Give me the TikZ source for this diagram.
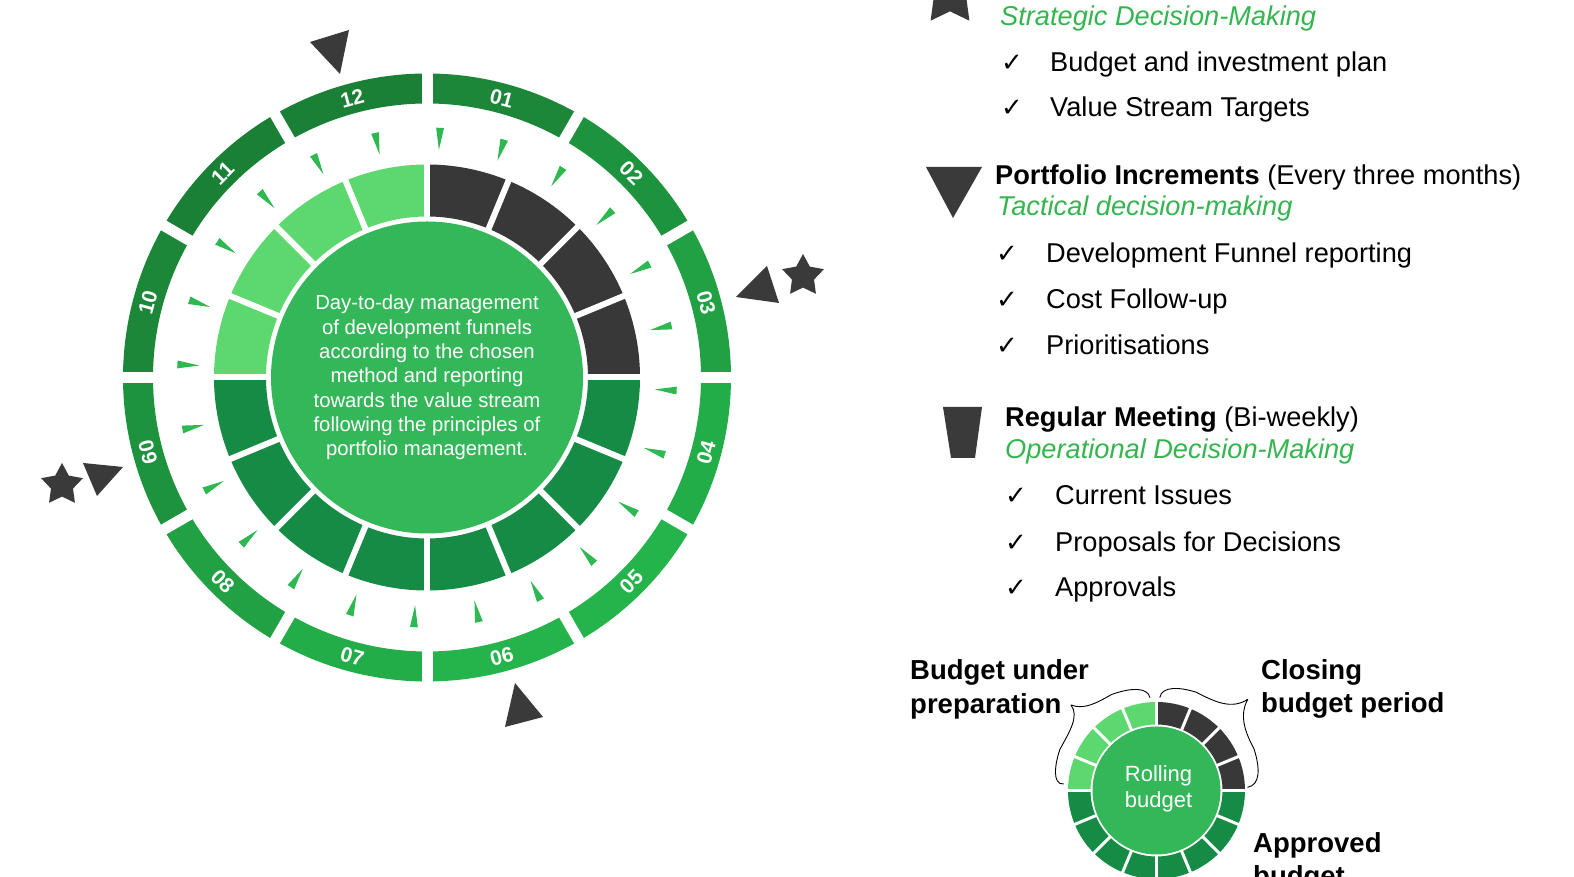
\documentclass[tikz,border=0pt]{standalone}
\usepackage{fontspec}
\setmainfont{Liberation Sans}
\newfontfamily\symfont{DejaVu Sans}
\usetikzlibrary{shapes.geometric}
\definecolor{ringdark}{HTML}{1A7F36}
\definecolor{ringlight}{HTML}{25B54C}
\definecolor{segdark}{HTML}{383838}
\definecolor{seglight}{HTML}{5CD86F}
\definecolor{seggreen}{HTML}{168B45}
\definecolor{centerg}{HTML}{34B759}
\definecolor{tickg}{HTML}{2EB851}
\definecolor{markc}{HTML}{3A3A3A}
\definecolor{legg}{HTML}{35B550}
\tikzset{
  ringnum/.style={font=\bfseries\fontsize{21}{21}\selectfont, text=white, inner sep=0},
  legtext/.style={anchor=base west, inner sep=0, font=\fontsize{27.2}{30}\selectfont, text=black},
  legital/.style={anchor=base west, inner sep=0, font=\fontsize{27.2}{30}\selectfont\itshape, text=legg},
  chk/.style={anchor=base west, inner sep=0, font=\symfont\fontsize{26}{28}\selectfont, text=black},
  budlab/.style={anchor=base west, inner sep=0, font=\bfseries\fontsize{27.5}{33}\selectfont, text=black},
  starmark/.style={star, star points=5, star point ratio=1.9, fill=markc, inner sep=0, draw=none},
  markfill/.style={fill=markc},
  bracestyle/.style={draw=black, line width=0.9, line join=round}
}
\begin{document}
\begin{tikzpicture}[x=1pt,y=1pt]
\useasboundingbox (0,0) rectangle (1574,877);
\clip (0,0) rectangle (1574,877);
\fill[white] (0,0) rectangle (1574,877);

% ===== main wheel =====
\begin{scope}[shift={(427,499.5)}]
  % outer ring segments
  \foreach \i in {1,...,12}{
    \pgfmathsetmacro{\a}{75-30*(\i-1)}
    \pgfmathsetmacro{\as}{\a+15}
    \pgfmathsetmacro{\ae}{\a-15}
    \pgfmathtruncatemacro{\t}{100*(1-cos(\a-120))/2}
    \fill[ringlight!\t!ringdark] (\as:304) arc[start angle=\as, end angle=\ae, radius=304]
      -- (\ae:274) arc[start angle=\ae, end angle=\as, radius=274] -- cycle;
  }
  \foreach \k in {0,...,11}{
    \draw[white, line width=11] ({90-30*\k}:266) -- ({90-30*\k}:310);
  }
  % labels
  \foreach \lab [count=\i] in {01,02,03,04,05,06,07,08,09,10,11,12}{
    \pgfmathsetmacro{\a}{75-30*(\i-1)}
    \pgfmathsetmacro{\aa}{\a < -180 ? \a+360 : \a}
    \pgfmathsetmacro{\rot}{\aa > 0 ? \aa-90 : \aa+90}
    \node[ringnum, rotate=\rot] (m\lab) at (\aa:289) {\lab};
  }
  % ticks
  \foreach \k in {0,...,23}{
    \pgfmathsetmacro{\b}{87-15*\k}
    \fill[tickg] (\b:228) -- ({\b+0.9}:250) -- ({\b-0.9}:250) -- cycle;
  }
  % inner ring
  \foreach \k in {0,...,15}{
    \pgfmathsetmacro{\as}{90-22.5*\k}
    \pgfmathsetmacro{\ae}{\as-22.5}
    \ifnum\k<4 \def\sc{segdark}\else\ifnum\k<12 \def\sc{seggreen}\else\def\sc{seglight}\fi\fi
    \fill[\sc] (\as:213) arc[start angle=\as, end angle=\ae, radius=213]
      -- (\ae:161) arc[start angle=\ae, end angle=\as, radius=161] -- cycle;
  }
  \foreach \k in {0,...,15}{
    \draw[white, line width=6] ({90-22.5*\k}:157) -- ({90-22.5*\k}:217);
  }
  \fill[centerg] (0,0) circle (156);
  \node[font=\fontsize{20.3}{24.3}\selectfont, text=white, align=center, inner sep=0] (ctext) at (0,0)
    {Day-to-day management\\of development funnels\\according to the chosen\\method and reporting\\towards the value stream\\following the principles of\\portfolio management.};
\end{scope}

% markers around wheel
\fill[markfill] (310,835) -- (349,847) -- (340,803) -- cycle;
\fill[markfill] (736,580) -- (767,611) -- (779,574) -- cycle;
\node[starmark, minimum size=44] (starR) at (803,601) {};
\fill[markfill] (83,414) -- (123,410) -- (97,381) -- cycle;
\node[starmark, minimum size=44] (starL) at (62,392) {};
\fill[markfill] (505,150) -- (515,194) -- (543,160) -- cycle;

% ===== legend =====
\node[starmark, minimum size=66] (starLeg) at (950,883) {};
\node[legital] (strat) at (1000,851) {Strategic Decision-Making};
\node[chk] (c1) at (1001,805) {✓};
\node[legtext] (t1) at (1050,805) {Budget and investment plan};
\node[chk] (c2) at (1001,760) {✓};
\node[legtext] (t2) at (1050,760) {Value Stream Targets};

\fill[markfill] (926,710) -- (982,710) -- (953,659) -- cycle;
\node[legtext] (pi) at (995,692) {\textbf{Portfolio Increments} (Every three months)};
\node[legital] (tact) at (997,661) {Tactical decision-making};
\node[chk] (c3) at (996,614) {✓};
\node[legtext] (t3) at (1046,614) {Development Funnel reporting};
\node[chk] (c4) at (996,568) {✓};
\node[legtext] (t4) at (1046,568) {Cost Follow-up};
\node[chk] (c5) at (996,522) {✓};
\node[legtext] (t5) at (1046,522) {Prioritisations};

\fill[markfill] (943,470) -- (982,470) -- (975,419) -- (951,419) -- cycle;
\node[legtext] (rm) at (1005,450) {\textbf{Regular Meeting} (Bi-weekly)};
\node[legital] (oper) at (1005,418) {Operational Decision-Making};
\node[chk] (c6) at (1005,372) {✓};
\node[legtext] (t6) at (1055,372) {Current Issues};
\node[chk] (c7) at (1005,325) {✓};
\node[legtext] (t7) at (1055,325) {Proposals for Decisions};
\node[chk] (c8) at (1005,280) {✓};
\node[legtext] (t8) at (1055,280) {Approvals};

% ===== rolling budget =====
\begin{scope}[shift={(1156.5,86.5)}]
  \foreach \k in {0,...,15}{
    \pgfmathsetmacro{\as}{90-22.5*\k}
    \pgfmathsetmacro{\ae}{\as-22.5}
    \ifnum\k<4 \def\sc{segdark}\else\ifnum\k<12 \def\sc{seggreen}\else\def\sc{seglight}\fi\fi
    \fill[\sc] (\as:88.5) arc[start angle=\as, end angle=\ae, radius=88.5]
      -- (\ae:66) arc[start angle=\ae, end angle=\as, radius=66] -- cycle;
  }
  \foreach \k in {0,...,15}{
    \draw[white, line width=3] ({90-22.5*\k}:63) -- ({90-22.5*\k}:91);
  }
  \fill[centerg] (0,0) circle (64);
  \node[font=\fontsize{22}{26}\selectfont, text=white, align=center, inner sep=0] (rb) at (2,2) {Rolling\\budget};
  % braces
  \draw[bracestyle] (176:93) .. controls (177:105) and (165:105) .. (157:105)
     .. controls (146:105) and (136:107) .. (135:121)
     .. controls (132:108) and (124:106) .. (115:106)
     .. controls (104:106) and (95:104) .. (94:93);
  \draw[bracestyle] (88:93) .. controls (87:105) and (77:106) .. (68:106)
     .. controls (57:106) and (47:110) .. (45:129)
     .. controls (42:110) and (32:106) .. (23:106)
     .. controls (12:106) and (3:104) .. (2:91);
\end{scope}
\node[budlab] (bu1) at (910,197) {Budget under};
\node[budlab] (bu2) at (910,163) {preparation};
\node[budlab] (cl1) at (1261,197) {Closing};
\node[budlab] (cl2) at (1261,164) {budget period};
\node[budlab] (ap1) at (1253,24) {Approved};
\node[budlab] (ap2) at (1253,-9) {budget};
\end{tikzpicture}
\end{document}
